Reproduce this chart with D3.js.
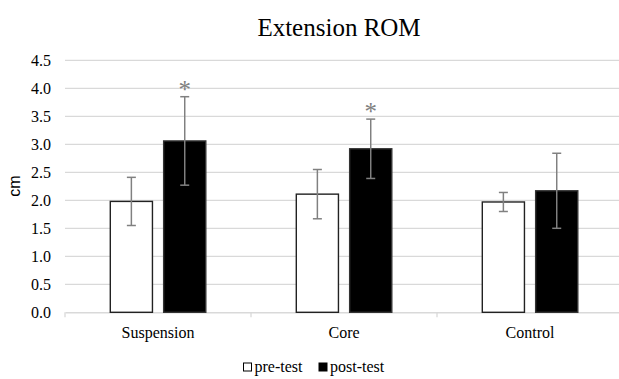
<!DOCTYPE html>
<html>
<head>
<meta charset="utf-8">
<script src="https://cdn.jsdelivr.net/npm/d3@7"></script>
<style>
  html, body { margin: 0; padding: 0; background: #fff; }
  svg { display: block; }
  .serif { font-family: "Liberation Serif", "Times New Roman", Times, "DejaVu Serif", serif; }
  .sans { font-family: "Liberation Sans", Arial, sans-serif; }
</style>
</head>
<body>
<svg id="chart" width="619" height="379"></svg>
<script>
const title = "Extension ROM";
const yLabel = "cm";
const categories = ["Suspension", "Core", "Control"];
const seriesNames = ["pre-test", "post-test"];
const preMeans = [1.98, 2.11, 1.97];
const preSD = [0.43, 0.44, 0.17];
const postMeans = [3.06, 2.92, 2.17];
const postSD = [0.79, 0.53, 0.67];
const postSignificant = [true, true, false];
const yTicks = [0, 0.5, 1, 1.5, 2, 2.5, 3, 3.5, 4, 4.5];

const svg = d3.select("#chart");
const W = 619, H = 379;

const y = d3.scaleLinear().domain([0, 4.5]).range([312.3, 60.3]);
const x0 = d3.scaleBand().domain(categories).range([65, 623]).paddingInner(0).paddingOuter(0);
const x1 = d3.scaleBand().domain(seriesNames).range([45.3, 140.8]).paddingInner(0.21);

const rows = categories.map((c, i) => ({
  cat: c,
  vals: [
    { s: "pre-test", m: preMeans[i], sd: preSD[i], sig: false },
    { s: "post-test", m: postMeans[i], sd: postSD[i], sig: postSignificant[i] }
  ]
}));

// gridlines
svg.append("g").selectAll("line")
  .data(yTicks.filter(t => t > 0))
  .join("line")
  .attr("x1", 65).attr("x2", W)
  .attr("y1", d => y(d)).attr("y2", d => y(d))
  .attr("stroke", "#d9d9d9").attr("stroke-width", 1.3);

// y tick labels
const yAxis = d3.axisLeft(y).tickValues(yTicks).tickFormat(d3.format(".1f")).tickSize(0).tickPadding(14);
const yg = svg.append("g").attr("transform", "translate(65,0)").call(yAxis)
  .attr("font-family", null).attr("font-size", null).attr("class", "serif");
yg.select(".domain").remove();
yg.selectAll("text").attr("class", "serif").style("font-size", "16px").attr("fill", "#000");

// x axis
const xAxis = d3.axisBottom(x0).tickSize(0).tickPadding(14);
const xg = svg.append("g").attr("transform", `translate(0,${y(0)})`).call(xAxis)
  .attr("font-family", null).attr("font-size", null).attr("class", "serif");
xg.select(".domain").attr("stroke", "#d9d9d9").attr("stroke-width", 1.5);
xg.selectAll("text").attr("class", "serif").style("font-size", "16px").attr("fill", "#000");
// category separators
svg.append("g").selectAll("line")
  .data(categories)
  .join("line")
  .attr("x1", d => x0(d)).attr("x2", d => x0(d))
  .attr("y1", y(0)).attr("y2", y(0) + 5)
  .attr("stroke", "#d9d9d9").attr("stroke-width", 1.3);

// bars
const groups = svg.append("g").selectAll("g")
  .data(rows).join("g")
  .attr("transform", d => `translate(${x0(d.cat)},0)`);

groups.selectAll("rect")
  .data(d => d.vals).join("rect")
  .attr("x", d => x1(d.s))
  .attr("width", x1.bandwidth())
  .attr("y", d => y(d.m))
  .attr("height", d => y(0) - y(d.m))
  .attr("fill", d => d.s === "pre-test" ? "#fff" : "#000")
  .attr("stroke", d => d.s === "pre-test" ? "#222" : "#333")
  .attr("stroke-width", 1.4);

// error bars
const eb = groups.selectAll("g.err").data(d => d.vals).join("g").attr("class", "err");
const cx = d => x1(d.s) + x1.bandwidth() / 2;
eb.append("line")
  .attr("x1", cx).attr("x2", cx)
  .attr("y1", d => y(d.m + d.sd)).attr("y2", d => y(d.m - d.sd))
  .attr("stroke", "#808080").attr("stroke-width", 1.5);
eb.append("line")
  .attr("x1", d => cx(d) - 4.5).attr("x2", d => cx(d) + 4.5)
  .attr("y1", d => y(d.m + d.sd)).attr("y2", d => y(d.m + d.sd))
  .attr("stroke", "#808080").attr("stroke-width", 1.5);
eb.append("line")
  .attr("x1", d => cx(d) - 4.5).attr("x2", d => cx(d) + 4.5)
  .attr("y1", d => y(d.m - d.sd)).attr("y2", d => y(d.m - d.sd))
  .attr("stroke", "#808080").attr("stroke-width", 1.5);

// significance asterisks
groups.selectAll("text.sig")
  .data(d => d.vals.filter(v => v.sig)).join("text")
  .attr("class", "sig serif")
  .attr("x", cx)
  .attr("y", d => y(d.m + d.sd) + 1)
  .attr("text-anchor", "middle")
  .style("font-size", "25px")
  .attr("fill", "#808080")
  .text("*");

// title
svg.append("text")
  .attr("class", "serif")
  .attr("x", 339).attr("y", 36)
  .attr("text-anchor", "middle")
  .style("font-size", "25px")
  .attr("fill", "#000")
  .text(title);

// y label
svg.append("text")
  .attr("class", "sans")
  .attr("transform", "translate(20,186) rotate(-90)")
  .attr("text-anchor", "middle")
  .style("font-size", "16px")
  .attr("fill", "#000")
  .text(yLabel);

// legend
const legendX = [243, 318.5];
const lg = svg.append("g").selectAll("g")
  .data(seriesNames).join("g")
  .attr("transform", (d, i) => `translate(${legendX[i]},0)`);
lg.append("rect")
  .attr("x", 0.5).attr("y", 363).attr("width", 8).attr("height", 8)
  .attr("fill", d => d === "pre-test" ? "#fff" : "#000")
  .attr("stroke", "#000").attr("stroke-width", 1);
lg.append("text")
  .attr("class", "serif")
  .attr("x", 11.5).attr("y", 372)
  .style("font-size", "16px").attr("fill", "#000")
  .text(d => d);
</script>
</body>
</html>
